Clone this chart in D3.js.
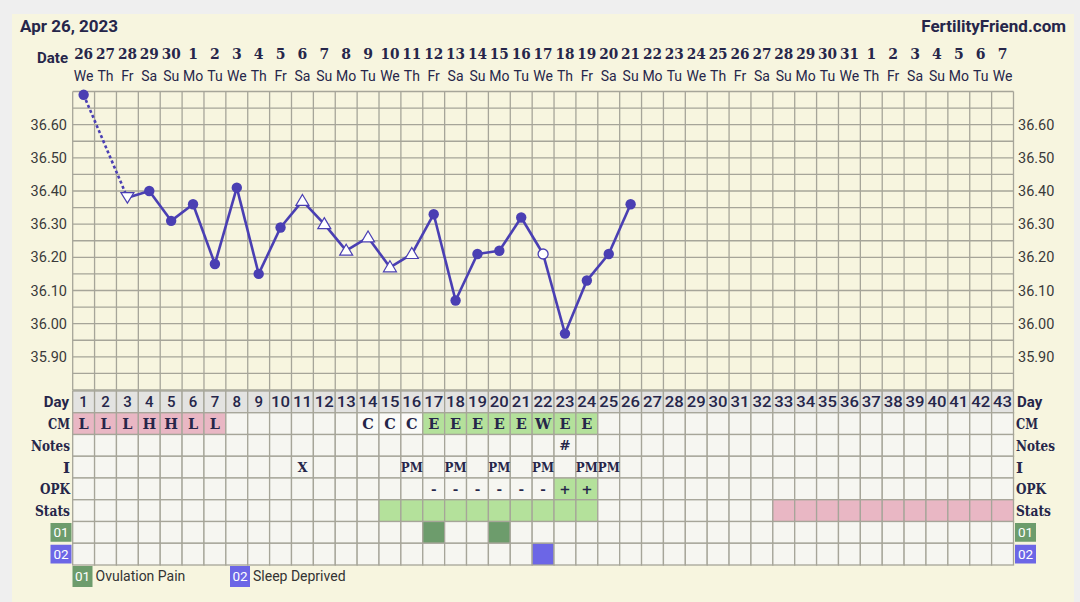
<!DOCTYPE html>
<html><head><meta charset="utf-8">
<script src="https://cdn.jsdelivr.net/npm/d3@7"></script>
<style>
html,body{margin:0;padding:0;background:#efefef;}
svg{display:block;}
</style></head>
<body>
<svg id="chart" width="1080" height="602"></svg>
<script>
// ---------- data ----------
const cycleDays = d3.range(1, 44);
const dateLabels = ["26","27","28","29","30","1","2","3","4","5","6","7","8","9","10","11","12","13","14","15","16","17","18","19","20","21","22","23","24","25","26","27","28","29","30","31","1","2","3","4","5","6","7"];
const weekdayLabels = ["We","Th","Fr","Sa","Su","Mo","Tu","We","Th","Fr","Sa","Su","Mo","Tu","We","Th","Fr","Sa","Su","Mo","Tu","We","Th","Fr","Sa","Su","Mo","Tu","We","Th","Fr","Sa","Su","Mo","Tu","We","Th","Fr","Sa","Su","Mo","Tu","We"];
const temps = [36.69, null, 36.38, 36.40, 36.31, 36.36, 36.18, 36.41, 36.15, 36.29, 36.37, 36.30, 36.22, 36.26, 36.17, 36.21, 36.33, 36.07, 36.21, 36.22, 36.32, 36.21, 35.97, 36.13, 36.21, 36.36];
const markerTypes = ["dot", null, "triDown", "dot", "dot", "dot", "dot", "dot", "dot", "dot", "triUp", "triUp", "triUp", "triUp", "triUp", "triUp", "dot", "dot", "dot", "dot", "dot", "open", "dot", "dot", "dot", "dot"];
const yTicks = [35.90, 36.00, 36.10, 36.20, 36.30, 36.40, 36.50, 36.60];
const cmValues = {1:"L",2:"L",3:"L",4:"H",5:"H",6:"L",7:"L",14:"C",15:"C",16:"C",17:"E",18:"E",19:"E",20:"E",21:"E",22:"W",23:"E",24:"E"};
const cmColors = {L:"pink",H:"pink",C:"none",E:"green",W:"green"};
const notesValues = {23:"#"};
const iValues = {11:"X",16:"PM",18:"PM",20:"PM",22:"PM",24:"PM",25:"PM"};
const opkValues = {17:"-",18:"-",19:"-",20:"-",21:"-",22:"-",23:"+",24:"+"};
const opkPositive = [23, 24];
const statsGreen = [15,16,17,18,19,20,21,22,23,24];
const statsPink = [33,34,35,36,37,38,39,40,41,42,43];
const custom01 = [17, 20];
const custom02 = [22];
const rowLabels = ["Day","CM","Notes","I","OPK","Stats","01","02"];
const legendItems = [{code:"01", label:"Ovulation Pain"},{code:"02", label:"Sleep Deprived"}];

// ---------- styles ----------
const C = {
  bg:"#f7f5df", text:"#26264a", grid:"#a6a599", cell:"#f6f6f1", dayRow:"#e3e3e1",
  pink:"#e9b7c4", green:"#b4e19b", dark01:"#6d9c6c", blue02:"#6c66e6", line:"#4a3fb3", tick:"#3a3a3a"
};
const slab = "'DejaVu Serif', serif";
const sans = "Roboto, 'Open Sans', sans-serif";
const labelWidths = {CM:22, Notes:39, I:null, OPK:30, Stats:35};

const svg = d3.select("#chart");
svg.append("rect").attr("x",12).attr("y",14).attr("width",1062).attr("height",588).attr("fill",C.bg);

const x = d3.scaleBand().domain(cycleDays).range([72.7, 1013.5]).padding(0);
const bw = x.bandwidth();
const cx = d => x(d) + bw/2;
const y = d3.scaleLinear().domain([35.80, 36.70]).range([390, 91.5]);

// header texts
svg.append("text").attr("x",20).attr("y",32).attr("font-family",sans).attr("font-weight",700)
  .attr("font-size",17).attr("fill",C.text).text("Apr 26, 2023");
svg.append("text").attr("x",1066).attr("y",32).attr("text-anchor","end").attr("font-family",sans).attr("font-weight",700)
  .attr("font-size",17).attr("fill",C.text).text("FertilityFriend.com");
svg.append("text").attr("x",68).attr("y",63).attr("text-anchor","end").attr("font-family",sans).attr("font-weight",700)
  .attr("font-size",15).attr("fill",C.text).text("Date");

svg.append("g").selectAll("text").data(cycleDays).join("text")
  .attr("x", d=>cx(d)).attr("y",59).attr("text-anchor","middle")
  .attr("font-family",slab).attr("font-weight",700).attr("font-size",14).attr("fill",C.text)
  .attr("textLength", (d,i)=> dateLabels[i].length>1 ? 19 : null)
  .attr("lengthAdjust","spacingAndGlyphs")
  .text((d,i)=>dateLabels[i]);
svg.append("g").selectAll("text").data(cycleDays).join("text")
  .attr("x", d=>cx(d)).attr("y",81).attr("text-anchor","middle")
  .attr("font-family",sans).attr("font-size",14).attr("fill",C.text)
  .text((d,i)=>weekdayLabels[i]);

// temperature grid
const gridG = svg.append("g");
const hLines = d3.range(0, 19).map(i => +(35.80 + i*0.05).toFixed(2));
gridG.selectAll("line.h").data(hLines).join("line")
  .attr("x1", x.range()[0]).attr("x2", x.range()[1])
  .attr("y1", d=>y(d)).attr("y2", d=>y(d))
  .attr("stroke",C.grid).attr("stroke-width",1.3);
gridG.selectAll("line.v").data(d3.range(0,44)).join("line")
  .attr("x1", i=>x.range()[0]+i*bw).attr("x2", i=>x.range()[0]+i*bw)
  .attr("y1", y(36.70)).attr("y2", y(35.80))
  .attr("stroke",C.grid).attr("stroke-width",1.3);

// y tick labels
svg.append("g").selectAll("text").data(yTicks).join("text")
  .attr("x",67).attr("y", d=>y(d)+5).attr("text-anchor","end")
  .attr("font-family",sans).attr("font-size",14.5).attr("fill",C.tick).text(d=>d.toFixed(2));
svg.append("g").selectAll("text").data(yTicks).join("text")
  .attr("x",1018).attr("y", d=>y(d)+5).attr("text-anchor","start")
  .attr("font-family",sans).attr("font-size",14.5).attr("fill",C.tick).text(d=>d.toFixed(2));

// temperature line
const pts = temps.map((t,i)=>({day:i+1, t, m:markerTypes[i]})).filter(p=>p.t!==null);
const segs = [];
for (let i=1;i<pts.length;i++) segs.push({a:pts[i-1], b:pts[i], dashed: pts[i].day - pts[i-1].day > 1});
svg.append("g").selectAll("line").data(segs).join("line")
  .attr("x1", s=>cx(s.a.day)).attr("y1", s=>y(s.a.t))
  .attr("x2", s=>cx(s.b.day)).attr("y2", s=>y(s.b.t))
  .attr("stroke",C.line).attr("stroke-width",2.6)
  .attr("stroke-dasharray", s=>s.dashed ? "3,2.5" : null);

const mk = svg.append("g");
pts.forEach(p=>{
  const px = cx(p.day), py = y(p.t);
  if (p.m==="dot") mk.append("circle").attr("cx",px).attr("cy",py).attr("r",5.2).attr("fill",C.line);
  else if (p.m==="open") mk.append("circle").attr("cx",px).attr("cy",py).attr("r",5).attr("fill","#ffffff").attr("stroke",C.line).attr("stroke-width",1.3);
  else if (p.m==="triUp") mk.append("path").attr("d",`M${px},${py-6.5}L${px+6.5},${py+4.5}L${px-6.5},${py+4.5}Z`).attr("fill","#ffffff").attr("stroke",C.line).attr("stroke-width",1.2);
  else if (p.m==="triDown") mk.append("path").attr("d",`M${px},${py+5.5}L${px+6.5},${py-5}L${px-6.5},${py-5}Z`).attr("fill","#ffffff").attr("stroke",C.line).attr("stroke-width",1.2);
});

// table
const rowTop = 391, rowH = 21.75;
const rowY = i => rowTop + i*rowH;
const tbl = svg.append("g");
function cellFill(row, d) {
  if (row===0) return C.dayRow;
  if (row===1 && cmValues[d]) { const c = cmColors[cmValues[d]]; return c==="pink"?C.pink:c==="green"?C.green:"#fbfbf8"; }
  if (row===4 && opkPositive.includes(d)) return C.green;
  if (row===5 && statsGreen.includes(d)) return C.green;
  if (row===5 && statsPink.includes(d)) return C.pink;
  if (row===6 && custom01.includes(d)) return C.dark01;
  if (row===7 && custom02.includes(d)) return C.blue02;
  return C.cell;
}
rowLabels.forEach((lab, r)=>{
  tbl.append("g").selectAll("rect").data(cycleDays).join("rect")
    .attr("x", d=>x(d)).attr("y", rowY(r)).attr("width", bw).attr("height", rowH)
    .attr("fill", d=>cellFill(r,d)).attr("stroke",C.grid).attr("stroke-width",1.3);
});
// Day numbers
tbl.append("g").selectAll("text").data(cycleDays).join("text")
  .attr("x", d=>cx(d)).attr("y", rowY(0)+rowH/2+5.5).attr("text-anchor","middle")
  .attr("font-family",sans).attr("font-weight",500).attr("font-size",15).attr("fill",C.text)
  .attr("textLength", d=> d>=10 ? 19 : null).attr("lengthAdjust","spacingAndGlyphs")
  .text(d=>d);
function rowText(obj, r, size) {
  const ks = Object.keys(obj).map(Number);
  tbl.append("g").selectAll("text").data(ks).join("text")
    .attr("x", d=>cx(d)).attr("y", rowY(r)+rowH/2+5).attr("text-anchor","middle")
    .attr("font-family",slab).attr("font-weight",700).attr("font-size",size).attr("fill",C.text)
    .attr("textLength", d=> obj[d].length>1 ? 22 : null).attr("lengthAdjust","spacingAndGlyphs")
    .text(d=>obj[d]);
}
rowText(cmValues,1,14.5);
rowText(notesValues,2,13.5);
rowText(iValues,3,13);
rowText(opkValues,4,13.5);

// row labels left/right
rowLabels.forEach((lab, r)=>{
  const yy = rowY(r)+rowH/2+5.5;
  if (r===0) {
    svg.append("text").attr("x",69).attr("y",yy).attr("text-anchor","end").attr("font-family",sans).attr("font-weight",700).attr("font-size",15).attr("fill",C.text).text(lab);
    svg.append("text").attr("x",1017).attr("y",yy).attr("font-family",sans).attr("font-weight",700).attr("font-size",15).attr("fill",C.text).text(lab);
  } else if (r<=5) {
    svg.append("text").attr("x",70).attr("y",yy).attr("text-anchor","end").attr("font-family",slab).attr("font-weight",700).attr("font-size",15).attr("fill",C.text)
      .attr("textLength", labelWidths[lab]).attr("lengthAdjust","spacingAndGlyphs").text(lab);
    svg.append("text").attr("x",1016).attr("y",yy).attr("font-family",slab).attr("font-weight",700).attr("font-size",15).attr("fill",C.text)
      .attr("textLength", labelWidths[lab]).attr("lengthAdjust","spacingAndGlyphs").text(lab);
  } else {
    const col = r===6 ? C.dark01 : C.blue02;
    [50.5,1015].forEach(bx=>{
      svg.append("rect").attr("x",bx).attr("y",rowY(r)+1.5).attr("width",21).attr("height",rowH-3).attr("fill",col);
      svg.append("text").attr("x",bx+10.5).attr("y",yy-0.5).attr("text-anchor","middle").attr("font-family",sans).attr("font-size",13.5).attr("fill","#ffffff").text(lab);
    });
  }
});

// legend
const legX = [72.5, 230];
legendItems.forEach((it,i)=>{
  const col = it.code==="01" ? C.dark01 : C.blue02;
  svg.append("rect").attr("x",legX[i]).attr("y",566).attr("width",20).attr("height",21).attr("fill",col);
  svg.append("text").attr("x",legX[i]+10).attr("y",581).attr("text-anchor","middle").attr("font-family",sans).attr("font-size",13.5).attr("fill","#ffffff").text(it.code);
  svg.append("text").attr("x",legX[i]+23).attr("y",581).attr("font-family",sans).attr("font-size",14).attr("fill","#333").text(it.label);
});
</script>
</body></html>
